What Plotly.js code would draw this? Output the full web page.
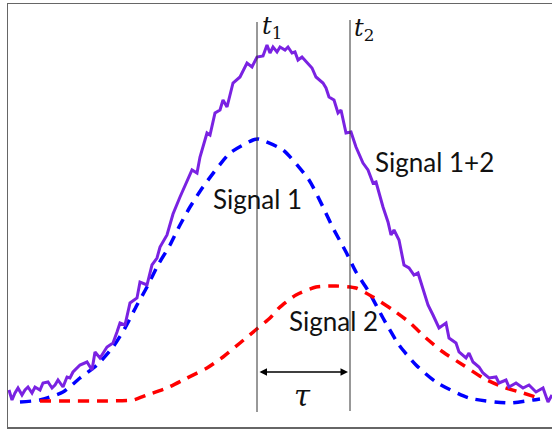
<!DOCTYPE html>
<html>
<head>
<meta charset="utf-8">
<script src="https://cdn.plot.ly/plotly-3.0.1.min.js"></script>
<style>html,body{margin:0;padding:0;background:#fff;}#chart{width:552px;height:430px;}</style>
</head>
<body>
<div id="chart"></div>
<script>
// Signal 1 (blue dashed)
const sig1X = [20,40,63,80,97,113,125,137,147,158,170,180,190,203,230,253,258,283,309,323,333,346,356,369,383,399,416,436,469,509,533,540];
const sig1Y = [25,27,35,49,62,80,99,122,140,162,182,202,220,240,274,287,288,277,247,220,199,175,155,135,109,82,62,45,29,24,27,28];
// Signal 2 (red dashed)
const sig2X = [40,70,100,133,147,167,187,207,223,240,258,270,279,296,316,336,356,373,393,409,426,443,463,483,503,523,539];
const sig2Y = [26,26,26,27,32,39,49,59,70,84,99,109,119,132,140,141,139,130,117,105,89,75,62,49,40,34,29];
// Signal 1+2 (purple, noisy)
const sumX = [9,12,15,18,22,25,28,32,35,40,43,48,52,55,58,63,67,70,73,78,80,87,92,95,100,107,113,117,120,125,130,137,140,147,152,157,160,167,173,180,188,192,197,200,207,210,215,220,223,227,233,240,247,252,257,263,267,270,273,277,280,285,288,292,295,298,302,307,312,316,323,326,329,334,338,341,346,351,356,363,368,373,376,383,388,391,394,399,404,409,414,418,423,428,433,439,446,449,456,459,466,469,473,479,483,489,496,499,506,509,516,523,529,536,543,548,552];
const sumY = [37,27,34,39,32,37,40,34,40,37,44,45,39,42,47,40,50,49,55,60,62,65,57,75,69,80,84,95,104,102,124,129,145,142,162,169,180,192,213,230,247,257,254,270,294,292,314,317,327,320,344,350,364,360,370,371,382,374,380,375,380,377,380,374,375,367,370,364,359,350,344,339,330,327,314,317,294,295,280,264,257,244,245,220,205,192,197,187,162,159,152,154,139,122,112,99,104,89,84,75,69,74,65,60,54,49,50,44,47,40,44,39,42,35,39,25,32];

// Markers
const t1 = 257, t2 = 350;
const labels = {s1:"Signal 1", s2:"Signal 2", s12:"Signal 1+2"};

const traces = [
  {x: sig1X, y: sig1Y, mode:'lines', line:{color:'#0000ff', width:3.5, dash:'11px,8px', shape:'spline', smoothing:0.6}, hoverinfo:'skip'},
  {x: sig2X, y: sig2Y, mode:'lines', line:{color:'#ff0000', width:3.5, dash:'11px,8px', shape:'spline', smoothing:0.6}, hoverinfo:'skip'},
  {x: sumX, y: sumY, mode:'lines', line:{color:'#7a22e2', width:3}, hoverinfo:'skip'}
];

const lblFont = {family:'Lato, "Open Sans", sans-serif', size:26, color:'#111'};
const mathFont = {family:'"DejaVu Serif", "Liberation Serif", serif', size:24, color:'#111'};
const tauFont = {family:'"DejaVu Serif", "Liberation Serif", serif', size:29, color:'#111'};

const layout = {
  width:552, height:430,
  margin:{l:8, r:0, t:4, b:3},
  paper_bgcolor:'#fff', plot_bgcolor:'#fff',
  showlegend:false,
  xaxis:{range:[8,552], showgrid:false, zeroline:false, showticklabels:false, ticks:'', showline:true, mirror:true, linecolor:'#666', linewidth:1.5, fixedrange:true},
  yaxis:{range:[0,423], showgrid:false, zeroline:false, showticklabels:false, ticks:'', showline:true, mirror:false, linecolor:'#666', linewidth:1.5, fixedrange:true},
  shapes:[
    {type:'line', x0:t1, x1:t1, y0:15, y1:405, line:{color:'#333', width:1}},
    {type:'line', x0:t2, x1:t2, y0:16, y1:407, line:{color:'#333', width:1}}
  ],
  annotations:[
    {x:t2-2, y:55, ax:t1+1, ay:55, xref:'x', yref:'y', axref:'x', ayref:'y', text:'', showarrow:true, arrowhead:2, startarrowhead:2, arrowside:'end+start', arrowwidth:1.5, arrowsize:1, arrowcolor:'#000'},
    {x:302, y:31, xref:'x', yref:'y', text:'<i>τ</i>', showarrow:false, font:tauFont},
    {x:260, y:400, xref:'x', yref:'y', xanchor:'left', text:'<i>t</i><sub>1</sub>', showarrow:false, font:mathFont},
    {x:352, y:398, xref:'x', yref:'y', xanchor:'left', text:'<i>t</i><sub>2</sub>', showarrow:false, font:mathFont},
    {x:257, y:228, xref:'x', yref:'y', text:labels.s1, showarrow:false, font:lblFont},
    {x:333, y:106, xref:'x', yref:'y', text:labels.s2, showarrow:false, font:lblFont},
    {x:434, y:265, xref:'x', yref:'y', text:labels.s12, showarrow:false, font:lblFont}
  ]
};

Plotly.newPlot('chart', traces, layout, {staticPlot:true, displayModeBar:false});
</script>
</body>
</html>
